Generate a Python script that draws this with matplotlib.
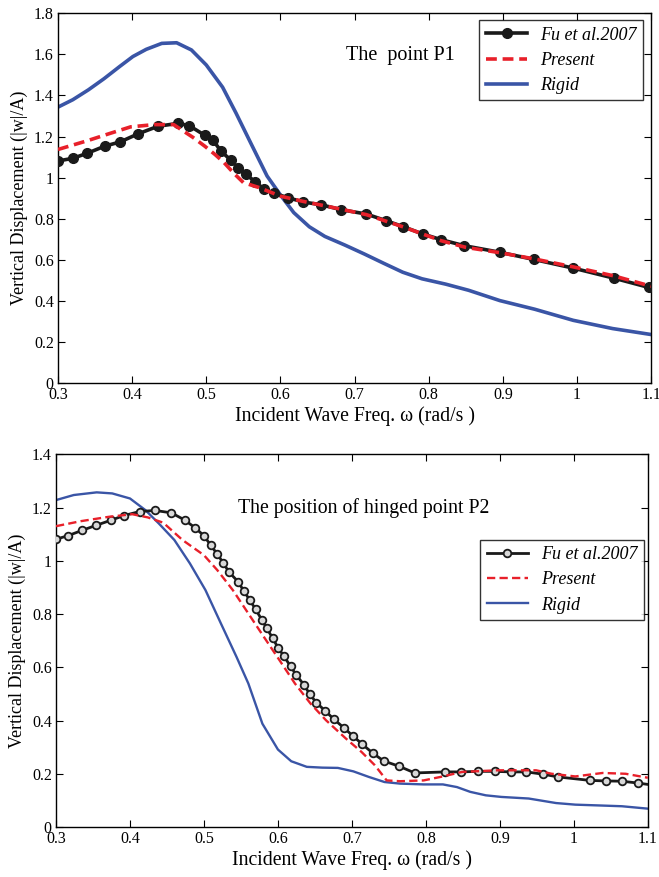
import matplotlib
matplotlib.use("Agg")
import matplotlib.pyplot as plt

plt.rcParams['font.family'] = ['Liberation Serif', 'DejaVu Serif']
plt.rcParams['mathtext.fontset'] = 'stix'

# ---- Top panel: the point P1 ----
p1_fu_x = [0.300, 0.320, 0.339, 0.363, 0.384, 0.408, 0.435, 0.462, 0.477, 0.498, 0.509,
           0.520, 0.533, 0.543, 0.554, 0.566, 0.578, 0.591, 0.610, 0.630, 0.655, 0.682,
           0.716, 0.743, 0.766, 0.792, 0.817, 0.848, 0.896, 0.942, 0.995, 1.050, 1.097]
p1_fu_y = [1.081, 1.094, 1.118, 1.153, 1.174, 1.213, 1.250, 1.264, 1.253, 1.206, 1.182,
           1.129, 1.085, 1.048, 1.016, 0.979, 0.944, 0.924, 0.903, 0.882, 0.868, 0.844,
           0.823, 0.790, 0.761, 0.726, 0.698, 0.669, 0.637, 0.602, 0.560, 0.511, 0.466]

p1_pr_x = [0.300, 0.340, 0.370, 0.398, 0.430, 0.456, 0.466, 0.482, 0.498, 0.512, 0.524,
           0.537, 0.550, 0.571, 0.600, 0.630, 0.680, 0.716, 0.766, 0.817, 0.850, 0.896,
           0.942, 0.995, 1.050, 1.100]
p1_pr_y = [1.137, 1.180, 1.215, 1.247, 1.258, 1.258, 1.234, 1.196, 1.153, 1.112, 1.073,
           1.022, 0.976, 0.952, 0.910, 0.885, 0.848, 0.820, 0.760, 0.693, 0.661, 0.635,
           0.605, 0.566, 0.522, 0.472]

p1_rg_x = [0.300, 0.320, 0.341, 0.362, 0.383, 0.401, 0.419, 0.440, 0.460, 0.480, 0.500,
           0.522, 0.540, 0.561, 0.582, 0.601, 0.618, 0.639, 0.660, 0.687, 0.713, 0.739,
           0.765, 0.791, 0.823, 0.854, 0.896, 0.943, 0.995, 1.048, 1.100]
p1_rg_y = [1.343, 1.379, 1.427, 1.481, 1.540, 1.589, 1.624, 1.653, 1.656, 1.621, 1.548,
           1.440, 1.315, 1.161, 1.008, 0.911, 0.830, 0.761, 0.714, 0.672, 0.629, 0.584,
           0.540, 0.508, 0.482, 0.452, 0.402, 0.360, 0.306, 0.266, 0.237]

# ---- Bottom panel: hinged point P2 ----
p2_fu_x = [0.300, 0.316, 0.335, 0.354, 0.374, 0.392, 0.413, 0.434, 0.456, 0.474, 0.488,
           0.500, 0.509, 0.518, 0.526, 0.534, 0.546, 0.554, 0.562, 0.570, 0.578, 0.585,
           0.593, 0.600, 0.608, 0.617, 0.625, 0.635, 0.643, 0.652, 0.664, 0.676, 0.689,
           0.701, 0.714, 0.728, 0.743, 0.764, 0.785, 0.826, 0.848, 0.870, 0.893, 0.915,
           0.936, 0.959, 0.979, 1.022, 1.044, 1.065, 1.087]
p2_fu_y = [1.081, 1.094, 1.114, 1.133, 1.152, 1.170, 1.185, 1.189, 1.180, 1.153, 1.124,
           1.094, 1.059, 1.025, 0.992, 0.957, 0.922, 0.886, 0.852, 0.817, 0.779, 0.746,
           0.709, 0.674, 0.642, 0.604, 0.570, 0.535, 0.499, 0.467, 0.436, 0.404, 0.373,
           0.343, 0.311, 0.278, 0.248, 0.228, 0.203, 0.207, 0.207, 0.209, 0.209, 0.207,
           0.207, 0.198, 0.188, 0.175, 0.173, 0.172, 0.165]
p2_fu_end_x = [1.087, 1.100]
p2_fu_end_y = [0.165, 0.160]

p2_pr_x = [0.300, 0.334, 0.371, 0.403, 0.424, 0.445, 0.471, 0.500, 0.518, 0.539, 0.560,
           0.581, 0.602, 0.623, 0.644, 0.665, 0.692, 0.713, 0.731, 0.747, 0.765, 0.797,
           0.823, 0.849, 0.897, 0.949, 0.970, 1.002, 1.039, 1.070, 1.100]
p2_pr_y = [1.130, 1.149, 1.165, 1.175, 1.163, 1.143, 1.078, 1.021, 0.965, 0.890, 0.802,
           0.714, 0.627, 0.539, 0.464, 0.401, 0.332, 0.282, 0.232, 0.175, 0.172, 0.175,
           0.190, 0.207, 0.213, 0.213, 0.200, 0.190, 0.203, 0.200, 0.185]

p2_rg_x = [0.300, 0.324, 0.355, 0.376, 0.400, 0.421, 0.439, 0.460, 0.481, 0.502, 0.523,
           0.544, 0.560, 0.579, 0.600, 0.618, 0.639, 0.660, 0.681, 0.702, 0.723, 0.744,
           0.765, 0.797, 0.823, 0.842, 0.860, 0.881, 0.902, 0.939, 0.976, 1.002, 1.034,
           1.065, 1.100]
p2_rg_y = [1.228, 1.247, 1.257, 1.253, 1.234, 1.190, 1.140, 1.078, 0.990, 0.890, 0.764,
           0.639, 0.539, 0.388, 0.291, 0.247, 0.226, 0.223, 0.222, 0.209, 0.188, 0.169,
           0.163, 0.160, 0.160, 0.150, 0.132, 0.119, 0.113, 0.107, 0.090, 0.084, 0.081,
           0.078, 0.069]

x_ticks = [0.3, 0.4, 0.5, 0.6, 0.7, 0.8, 0.9, 1.0, 1.1]
x_ticklabels = ['0.3', '0.4', '0.5', '0.6', '0.7', '0.8', '0.9', '1', '1.1']
y1_ticks = [0, 0.2, 0.4, 0.6, 0.8, 1.0, 1.2, 1.4, 1.6, 1.8]
y1_ticklabels = ['0', '0.2', '0.4', '0.6', '0.8', '1', '1.2', '1.4', '1.6', '1.8']
y2_ticks = [0, 0.2, 0.4, 0.6, 0.8, 1.0, 1.2, 1.4]
y2_ticklabels = ['0', '0.2', '0.4', '0.6', '0.8', '1', '1.2', '1.4']

BLACK = '#1a1a1a'
RED = '#e8202a'
BLUE = '#3a55a6'

fig = plt.figure(figsize=(6.59, 8.77), dpi=100)
ax1 = fig.add_axes([0.088, 0.563, 0.900, 0.422])
ax2 = fig.add_axes([0.085, 0.057, 0.898, 0.425])

xlabel = 'Incident Wave Freq. ω (rad/s )'
ylabel = 'Vertical Displacement (|w|/A)'

def style(ax, yt, ytl, ymax):
    ax.set_xlim(0.3, 1.1)
    ax.set_ylim(0, ymax)
    ax.set_xticks(x_ticks)
    ax.set_xticklabels(x_ticklabels)
    ax.set_yticks(yt)
    ax.set_yticklabels(ytl)
    ax.tick_params(direction='in', top=True, right=True, labelsize=11.5, length=5, width=0.8, pad=3)
    ax.set_xlabel(xlabel, fontsize=14.2, labelpad=2)
    ax.set_ylabel(ylabel, fontsize=13, labelpad=4)
    for s in ax.spines.values():
        s.set_linewidth(1.0)

legend_kw = dict(prop={'style': 'italic', 'size': 13}, frameon=True, fancybox=False,
                 edgecolor='black', handlelength=2.3, borderpad=0.35, labelspacing=0.45,
                 handletextpad=0.7)

# Top
ax1.plot(p1_rg_x, p1_rg_y, color=BLUE, lw=2.6, label='Rigid', zorder=2)
ax1.plot(p1_fu_x, p1_fu_y, color=BLACK, lw=2.6, marker='o', ms=7, mfc=BLACK, mec=BLACK,
         label='Fu et al.2007', zorder=3)
ax1.plot(p1_pr_x, p1_pr_y, color=RED, lw=2.6, ls=(0, (3, 1.6)), label='Present', zorder=4)
style(ax1, y1_ticks, y1_ticklabels, 1.8)
ax1.text(0.578, 0.885, 'The  point P1', transform=ax1.transAxes, ha='center', va='center', fontsize=14.5)
h1 = ax1.get_legend_handles_labels()[0]
leg1 = ax1.legend([h1[1], h1[2], h1[0]], ['Fu et al.2007', 'Present', 'Rigid'],
                  loc='upper right', bbox_to_anchor=(0.992, 0.99), borderaxespad=0.2, **legend_kw)
leg1.get_frame().set_linewidth(1.0)

# Bottom
ax2.plot(p2_rg_x, p2_rg_y, color=BLUE, lw=1.7, label='Rigid', zorder=2)
ax2.plot(p2_fu_end_x, p2_fu_end_y, color=BLACK, lw=2.0, zorder=3)
ax2.plot(p2_fu_x, p2_fu_y, color=BLACK, lw=2.0, marker='o', ms=5.5, mfc='#d8d8d8', mec=BLACK,
         mew=1.3, label='Fu et al.2007', zorder=3)
ax2.plot(p2_pr_x, p2_pr_y, color=RED, lw=1.7, ls=(0, (3.5, 1.8)), label='Present', zorder=4)
style(ax2, y2_ticks, y2_ticklabels, 1.4)
ax2.text(0.52, 0.855, 'The position of hinged point P2', transform=ax2.transAxes,
         ha='center', va='center', fontsize=14.2)
h2 = ax2.get_legend_handles_labels()[0]
leg2 = ax2.legend([h2[1], h2[2], h2[0]], ['Fu et al.2007', 'Present', 'Rigid'],
                  loc='upper right', bbox_to_anchor=(0.993, 0.77), borderaxespad=0.0, **legend_kw)
leg2.get_frame().set_linewidth(1.0)

fig.savefig('out.png', dpi=100)
